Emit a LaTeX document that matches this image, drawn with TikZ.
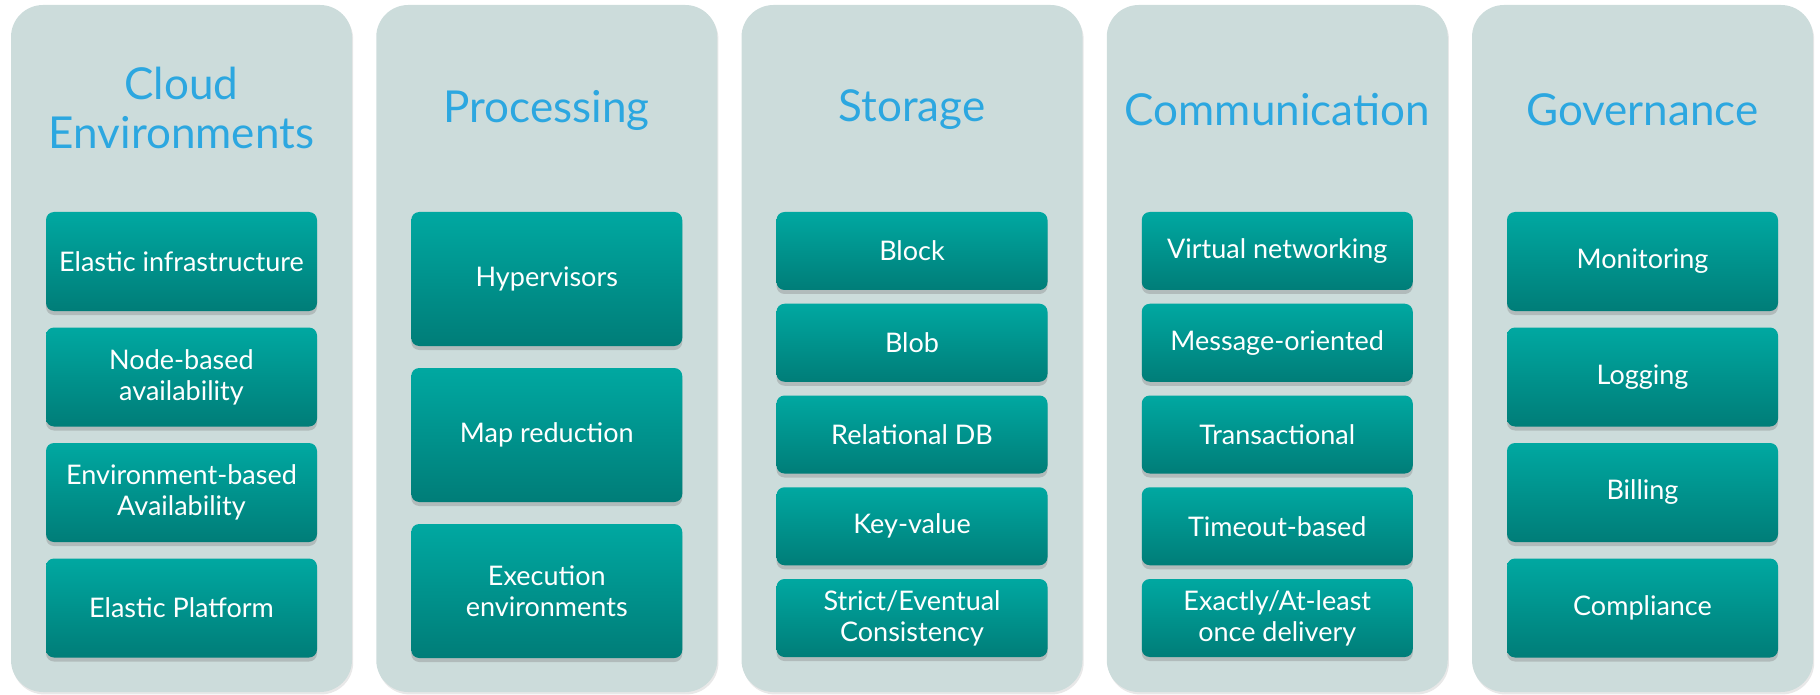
\documentclass[tikz,border=0pt]{standalone}
\usepackage{fontspec}
\setmainfont{Lato}
\usetikzlibrary{positioning,shadows}
\definecolor{colbg}{HTML}{CCDCDB}
\definecolor{tealtop}{HTML}{00A8A1}
\definecolor{tealmid}{HTML}{009E98}
\definecolor{tealbot}{HTML}{007D78}
\definecolor{titleblue}{HTML}{2CA7E0}
\tikzset{
  colbox/.style={rectangle,rounded corners=16pt,fill=colbg,minimum width=170.5pt,minimum height=343.5pt,
    drop shadow={shadow xshift=0.6pt,shadow yshift=-1.2pt,opacity=0.18}},
  coltitle/.style={text=titleblue,align=center,font=\fontsize{22}{24.5}\selectfont},
  itembox/.style={rectangle,rounded corners=4pt,inner sep=0pt,minimum width=135.5pt,
    top color=tealtop,middle color=tealmid,bottom color=tealbot,text=white,align=center,
    font=\fontsize{13.5}{15.5}\selectfont,
    drop shadow={shadow xshift=0pt,shadow yshift=-2pt,opacity=0.35}},
  tallbox/.style={itembox,minimum height=49.5pt},
  hugebox/.style={itembox,minimum height=67pt},
  flatbox/.style={itembox,minimum height=39pt}
}
\begin{document}
\begin{tikzpicture}[x=0.5pt,y=-0.5pt]
\useasboundingbox (0,0) rectangle (1820,695);
% columns
\node (colA) [colbox] at (181.5,348.5) {};
\node (colB) [colbox] at (546.75,348.5) {};
\node (colC) [colbox] at (912,348.5) {};
\node (colD) [colbox] at (1277.25,348.5) {};
\node (colE) [colbox] at (1642.5,348.5) {};
%
\node (envT) [coltitle] at (181.5,108) {Cloud\\Environments};
\node (procT) [coltitle] at (546.75,110) {Processing};
\node (storT) [coltitle] at (912,110) {Storage};
\node (commT) [coltitle] at (1277.25,110) {Communication};
\node (govT) [coltitle] at (1642.5,110) {Governance};
%
\node (env1) [tallbox] at (181.5,261.5) {Elastic infrastructure};
\node (env2) [tallbox] at (181.5,377) {Node-based\\availability};
\node (env3) [tallbox] at (181.5,492.5) {Environment-based\\Availability};
\node (env4) [tallbox] at (181.5,608) {Elastic Platform};
%
\node (proc1) [hugebox] at (546.75,279) {Hypervisors};
\node (proc2) [hugebox] at (546.75,435) {Map reduction};
\node (proc3) [hugebox] at (546.75,591) {Execution\\environments};
%
\node (stor1) [flatbox] at (912,251) {Block};
\node (stor2) [flatbox] at (912,342.75) {Blob};
\node (stor3) [flatbox] at (912,434.5) {Relational DB};
\node (stor4) [flatbox] at (912,526.25) {Key-value};
\node (stor5) [flatbox] at (912,618) {Strict/Eventual\\Consistency};
%
\node (comm1) [flatbox] at (1277.25,251) {Virtual networking};
\node (comm2) [flatbox] at (1277.25,342.75) {Message-oriented};
\node (comm3) [flatbox] at (1277.25,434.5) {Transactional};
\node (comm4) [flatbox] at (1277.25,526.25) {Timeout-based};
\node (comm5) [flatbox] at (1277.25,618) {Exactly/At-least\\once delivery};
%
\node (gov1) [tallbox] at (1642.5,261.5) {Monitoring};
\node (gov2) [tallbox] at (1642.5,377) {Logging};
\node (gov3) [tallbox] at (1642.5,492.5) {Billing};
\node (gov4) [tallbox] at (1642.5,608) {Compliance};
\end{tikzpicture}
\end{document}
